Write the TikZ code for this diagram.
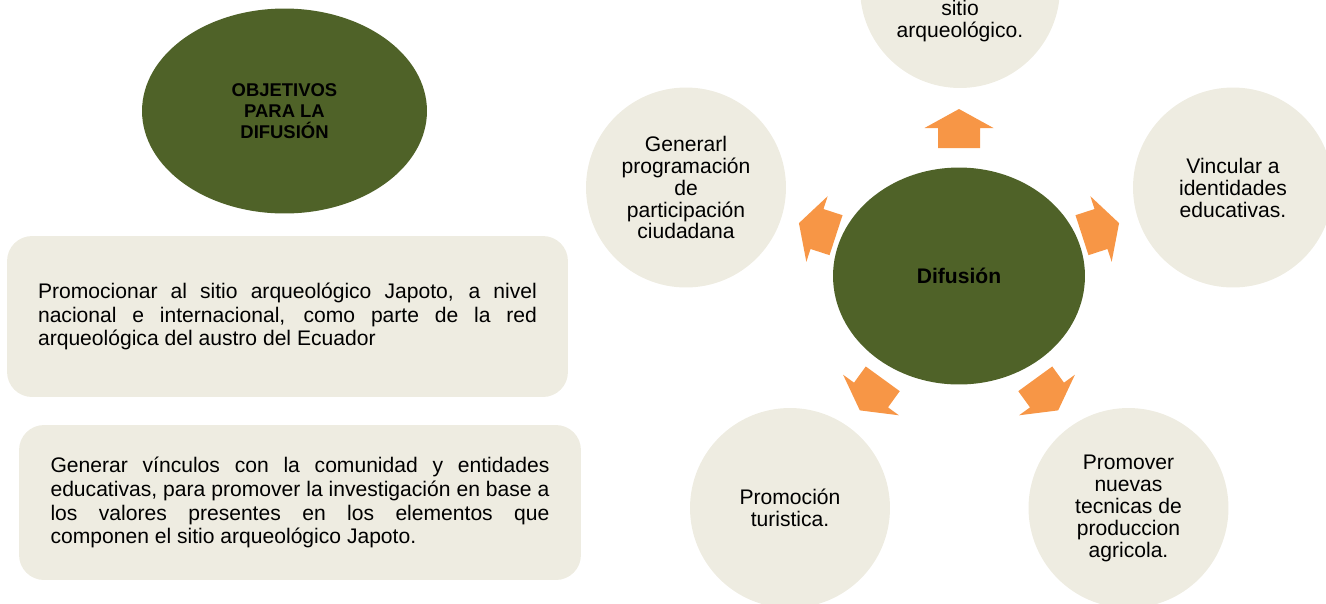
\documentclass[tikz,border=0pt]{standalone}
\usepackage{fontspec}
\setmainfont{Liberation Sans}
\usepackage{tikz}
\usetikzlibrary{
	shapes.geometric,
	positioning
}
\definecolor{DarkOlive}{RGB}{79,98,40}
\definecolor{LightBeige}{RGB}{238,236,225}
\definecolor{SoftOrange}{RGB}{247,150,70}

\tikzset{
	circulo/.style={circle, fill=LightBeige, minimum size=4cm, inner sep=0pt, align=center, font=\fontsize{12}{12.5}\selectfont},
	ovalo/.style={ellipse, fill=DarkOlive, inner sep=0pt, align=center},
	caja/.style={rounded corners=0.5cm, fill=LightBeige, inner sep=0pt, text width=9.98cm, align=justify, font=\fontsize{12}{13.6}\selectfont},
	flecha/.pic={\fill[SoftOrange] (-20,-21) -- (0,-21) -- (0,-34.5) -- (19,0) -- (0,34.5) -- (0,21) -- (-20,21) -- cycle;}
}

\begin{document}
\begin{tikzpicture}[x=0.02cm, y=-0.02cm]
		\clip (0,0) rectangle (1326,603);
		
		% left side: title and objectives
		\node[ovalo, minimum width=5.7cm, minimum height=4.1cm, font=\bfseries\fontsize{10.5}{11.9}\selectfont] (obj) at (284.5,111) {OBJETIVOS\\PARA LA\\DIFUSIÓN};
		\node[caja, minimum width=11.22cm, minimum height=3.22cm] (obj1) at (287.5,316.5) {Promocionar al sitio arqueológico Japoto, a nivel\linebreak nacional e internacional, como parte de la red\linebreak arqueológica del austro del Ecuador};
		\node[caja, minimum width=11.24cm, minimum height=3.1cm] (obj2) at (300,502.5) {Generar vínculos con la comunidad y entidades\linebreak educativas, para promover la investigación en base a\linebreak los valores presentes en los elementos que\linebreak componen el sitio arqueológico Japoto.};
		
		% right side: radial cycle
		\node[ovalo, minimum width=5.04cm, minimum height=4.34cm, font=\bfseries\fontsize{12}{14}\selectfont] (dif) at (959,276) {Difusión};
		
		\node[circulo] (sitio) at (960,-12) {};
		\node[align=center, inner sep=0pt, font=\fontsize{12}{12.5}\selectfont] (sitiotxt) at (960,21.5) {sitio\\arqueológico.};
		\node[circulo] (partic) at (686,187.5) {Generarl\\programación\\de\\participación\\ciudadana};
		\node[circulo] (vinc) at (1233,187.5) {Vincular a\\identidades\\educativas.};
		\node[circulo] (turis) at (790,508) {Promoción\\turistica.};
		\node[circulo] (agri) at (1128.5,508) {Promover\\nuevas\\tecnicas de\\produccion\\agricola.};
		
		\pic[rotate=90] at (959,128) {flecha};
		\pic[rotate=162] at (817,229) {flecha};
		\pic[rotate=18] at (1101,229) {flecha};
		\pic[rotate=234] at (871,395) {flecha};
		\pic[rotate=306] at (1047,395) {flecha};
	\end{tikzpicture}
\end{document}
